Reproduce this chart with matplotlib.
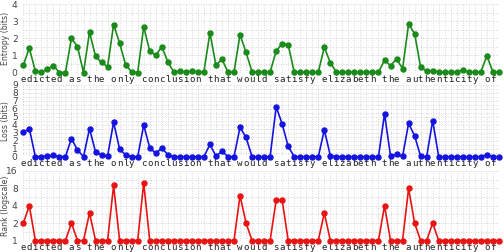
import matplotlib
matplotlib.use("Agg")
import matplotlib.pyplot as plt
from matplotlib.ticker import FixedLocator, NullFormatter

text = "edicted as the only conclusion that would satisfy elizabeth the authenticity of "
chars = list(text)

entropy = [0.44, 1.43, 0.08, 0.02, 0.2, 0.4, 0.0, 0.0, 2.02, 1.52, 0.0, 2.38, 0.95, 0.59, 0.34,
           2.82, 1.73, 0.44, 0.04, 0.0, 2.69, 1.26, 1.0, 1.52, 0.63,
           0.02, 0.08, 0.02, 0.1, 0.02, 0.04, 2.34, 0.42, 0.78, 0.02, 0.02, 2.23, 1.18, 0.04,
           0.02, 0.02, 0.02, 1.26, 1.70, 1.64, 0.02, 0.02, 0.02, 0.02, 0.02, 1.49, 0.57,
           0.02, 0.02, 0.02, 0.02, 0.02, 0.02, 0.02, 0.02,
           0.72, 0.4, 0.8, 0.23, 2.84, 2.29, 0.3, 0.08, 0.11, 0.02, 0.02, 0.02, 0.02, 0.15,
           0.02, 0.02, 0.02, 0.99, 0.03, 0.03]

loss = [3.1, 3.55, 0.04, 0.04, 0.12, 0.2, 0.04, 0.04, 2.31, 0.87, 0.04, 3.55, 0.62, 0.25, 0.12,
        4.34, 0.99, 0.25, 0.04, 0.04, 3.97, 1.16, 0.45, 1.12, 0.3,
        0.04, 0.04, 0.04, 0.04, 0.04, 0.04, 1.57, 0.12, 0.7, 0.04, 0.04, 3.72, 2.44, 0.04,
        0.04, 0.04, 0.04, 6.28, 4.13, 1.32, 0.04, 0.04, 0.04, 0.04, 0.04, 3.39, 0.17,
        0.04, 0.04, 0.04, 0.04, 0.04, 0.04, 0.04, 0.04,
        5.41, 0.12, 0.33, 0.08, 4.21, 2.64, 0.08, 0.04, 4.55, 0.04, 0.04, 0.04, 0.04, 0.04,
        0.04, 0.04, 0.04, 0.29, 0.04, 0.04]

rank = [2, 4, 1, 1, 1, 1, 1, 1, 2, 1, 1, 3, 1, 1, 1, 9, 1, 1, 1, 1, 10, 1, 1, 1, 1,
        1, 1, 1, 1, 1, 1, 1, 1, 1, 1, 1, 6, 2, 1, 1, 1, 1, 5, 5, 1, 1, 1, 1, 1, 1, 3, 1,
        1, 1, 1, 1, 1, 1, 1, 1,
        4, 1, 1, 1, 8, 2, 1, 1, 2, 1, 1, 1, 1, 1, 1, 1, 1, 1, 1, 1]

x = list(range(len(chars)))

fig = plt.figure(figsize=(5.04, 2.52), dpi=100)
W, H = 504.0, 252.0
x0, x1 = 23.3, 498.9
left = x0 / W
width = (x1 - x0) / W

panels = [
    (entropy, "#1a8a1a", "Entropy (bits)", 4.5, 72.5, (0, 4), [0, 1, 2, 3, 4], False),
    (loss, "#1414e0", "Loss (bits)", 85.0, 157.0, (0, 9), list(range(10)), False),
    (rank, "#e81414", "Rank (logscale)", 171.0, 240.5, (1, 16), [1, 2, 4, 8, 16], True),
]

for vals, color, ylabel, ytop, ybot, ylim, yticks, logy in panels:
    ax = fig.add_axes([left, 1 - ybot / H, width, (ybot - ytop) / H])
    if logy:
        ax.set_yscale("log", base=2)
    ax.plot(x, vals, color=color, lw=1.2, marker="o", ms=3.6, clip_on=False, zorder=3)
    ax.set_xlim(0, len(chars) - 1)
    ax.set_ylim(*ylim)
    ax.set_yticks(yticks)
    ax.set_yticklabels([str(t) for t in yticks])
    ax.yaxis.set_minor_formatter(NullFormatter())
    if logy:
        ax.yaxis.set_minor_locator(FixedLocator([1.41, 2.83, 5.66, 11.3]))
    else:
        ax.yaxis.set_minor_locator(FixedLocator([i * 0.5 for i in range(int(ylim[1] / 0.5) + 1)]))
    ax.set_xticks(x)
    ax.set_xticklabels(chars, fontfamily="DejaVu Sans Mono", fontsize=6.6, color="#222222")
    for s in ax.spines.values():
        s.set_visible(False)
    ax.tick_params(axis="both", which="both", length=0)
    ax.tick_params(axis="x", pad=1.5)
    ax.tick_params(axis="y", pad=4, labelsize=6.6, labelcolor="#444444")
    ax.grid(True, which="both", color="#c8c8c8", linestyle=(0, (1, 2)), linewidth=0.6)
    ax.set_axisbelow(True)
    ax.set_ylabel(ylabel, fontsize=5.6, color="#444444")
    ax.yaxis.label.set_verticalalignment("center")
    ax.yaxis.set_label_coords((5.5 - x0) / (x1 - x0), 0.5)

fig.savefig("out.png", dpi=100)
